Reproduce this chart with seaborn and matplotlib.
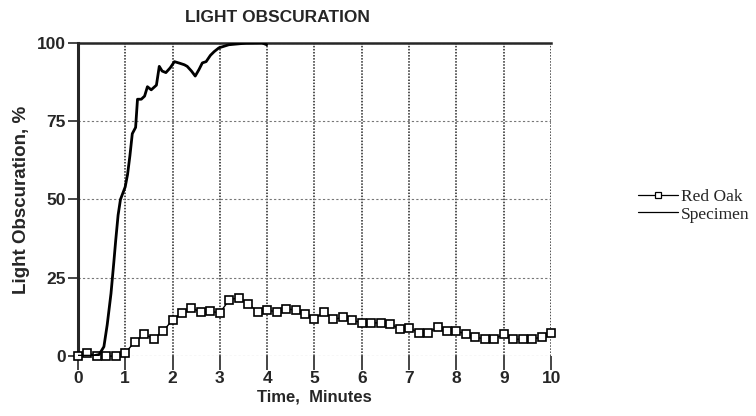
import pandas as pd
import seaborn as sns
import matplotlib
matplotlib.use("Agg")
import matplotlib.pyplot as plt
from matplotlib.lines import Line2D

# Red Oak readings, one every 0.2 minutes
oak_time = [round(0.2 * i, 1) for i in range(51)]
oak_obsc = [0, 1, 0, 0, 0, 1, 4.5, 7, 5.5, 8,
            11.5, 13.8, 15.4, 14, 14.3, 13.8, 18, 18.6, 16.6, 14.2,
            14.6, 14.2, 15, 14.8, 13.4, 11.8, 14.2, 11.7, 12.4, 11.5,
            10.6, 10.6, 10.6, 10.4, 8.5, 9, 7.5, 7.5, 9.2, 8,
            8, 7, 6, 5.5, 5.5, 7, 5.3, 5.5, 5.5, 6, 7.5]

# Specimen trace
spec_time = [0, 0.3, 0.45, 0.55, 0.62, 0.7, 0.76, 0.8, 0.85, 0.9,
             0.95, 1.0, 1.05, 1.1, 1.15, 1.22, 1.26, 1.34, 1.41, 1.47,
             1.55, 1.66, 1.72, 1.78, 1.86, 1.95, 2.04, 2.15, 2.25, 2.31,
             2.4, 2.48, 2.56, 2.63, 2.71, 2.8, 2.88, 2.98, 3.19, 3.55,
             3.89, 3.99]
spec_obsc = [0, 0, 0.5, 3, 10, 20, 30, 37, 45, 50,
             52, 54, 58, 64, 71, 73, 82, 82, 83, 86,
             85, 86.5, 92.5, 91, 90.5, 92, 94, 93.5, 93, 92.5,
             91, 89.4, 91.5, 93.6, 94, 96, 97.2, 98.4, 99.4, 99.9,
             100, 99.4]

oak = pd.DataFrame({"Time": oak_time, "Obsc": oak_obsc})
spec = pd.DataFrame({"Time": spec_time, "Obsc": spec_obsc})

sns.set_style("ticks")
plt.rcParams["font.family"] = ["Liberation Sans", "DejaVu Sans"]

fig = plt.figure(figsize=(7.56, 4.16), dpi=100)
ax = fig.add_axes([0.103, 0.144, 0.626, 0.753])

sns.lineplot(data=oak, x="Time", y="Obsc", ax=ax, color="black", linewidth=1.0,
             marker="s", markersize=5.8, markerfacecolor="white", markeredgecolor="black",
             markeredgewidth=1.2, clip_on=False, zorder=4)
sns.lineplot(data=spec, x="Time", y="Obsc", ax=ax, color="black", linewidth=2.0,
             zorder=5)

ax.set_xlim(0, 10)
ax.set_ylim(0, 100)
ax.set_xticks(range(0, 11))
ax.set_yticks([0, 25, 50, 75, 100])
ax.tick_params(axis="x", direction="out", length=10, width=1.2, labelsize=12.5, pad=1)
ax.tick_params(axis="y", direction="out", length=7.5, width=1.2, labelsize=12.5, pad=1)
for lab in ax.get_xticklabels() + ax.get_yticklabels():
    lab.set_fontweight("bold")

ax.xaxis.grid(True, linestyle=(0, (1, 1)), color="#222222", linewidth=1.1)
ax.yaxis.grid(True, linestyle=(0, (2, 2)), color="#777777", linewidth=0.8)
ax.set_axisbelow(True)

for s in ["right", "bottom"]:
    ax.spines[s].set_visible(False)
ax.spines["left"].set_linewidth(2.2)
ax.spines["top"].set_linewidth(1.8)

ax.set_xlabel("Time,  Minutes", fontsize=12, fontweight="bold", labelpad=2)
ax.set_ylabel("Light Obscuration, %", fontsize=13.5, fontweight="bold", labelpad=5)
fig.text(0.367, 0.957, "LIGHT OBSCURATION", ha="center", va="center",
         fontsize=12.5, fontweight="bold")

# thin legend keys, like the printed original
handles = [Line2D([], [], color="black", linewidth=0.9, marker="s", markersize=5,
                  markerfacecolor="white", markeredgecolor="black", markeredgewidth=0.9),
           Line2D([], [], color="black", linewidth=0.9)]
fig.legend(handles, ["Red Oak", "Specimen"], loc="center left", bbox_to_anchor=(0.823, 0.505),
           frameon=False, handlelength=2.3, handletextpad=0.2, labelspacing=0.05,
           prop={"family": "Liberation Serif", "size": 12.5})

fig.savefig("out.png", dpi=100)
